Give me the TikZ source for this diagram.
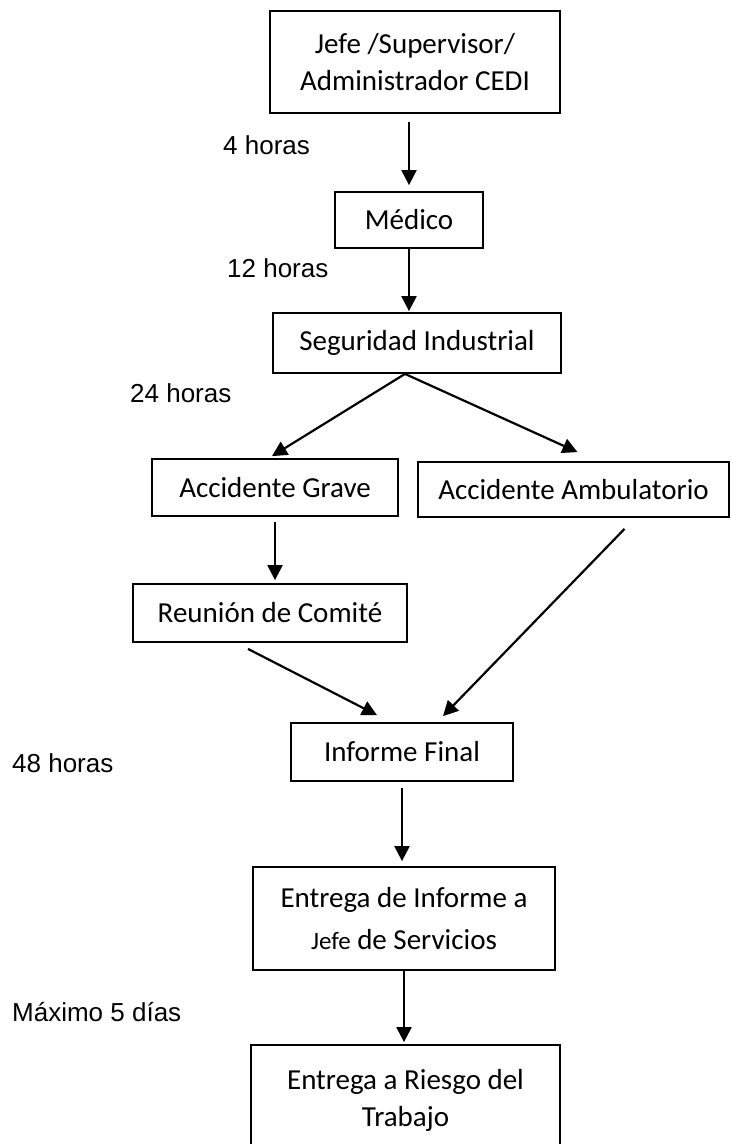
\documentclass[tikz,border=0pt]{standalone}
\usepackage{fontspec}
\setmainfont{Carlito}
\newfontfamily\labelfont{Liberation Sans}
\usetikzlibrary{arrows.meta,calc}
\begin{document}
\begin{tikzpicture}[x=1pt,y=-1pt,
  stepbox/.style={draw,line width=1.8pt,rectangle,inner sep=0pt,align=center,
    font=\fontsize{29}{37}\selectfont},
  flow/.style={line width=2.2pt,-{Triangle[length=15pt,width=15pt]}},
  timelabel/.style={anchor=west,inner sep=0pt,font=\labelfont\fontsize{26}{31}\selectfont}]
\clip (0,0) rectangle (731,1144);
\fill[white] (0,0) rectangle (731,1144);

% process steps
\node[stepbox,minimum width=290pt,minimum height=102pt] (jefe) at (415,62)
  {Jefe /Supervisor/\\Administrador CEDI};
\node[stepbox,minimum width=148pt,minimum height=56pt] (med) at (409,220) {Médico};
\node[stepbox,minimum width=288pt,minimum height=60pt] (seg) at (417,343) {Seguridad Industrial};
\node[stepbox,minimum width=246pt,minimum height=57pt] (ag) at (275,487.5) {Accidente Grave};
\node[stepbox,minimum width=311pt,minimum height=55pt] (aa) at (573.5,489.5) {Accidente Ambulatorio};
\node[stepbox,minimum width=274pt,minimum height=58pt] (rc) at (270,613) {Reunión de Comité};
\node[stepbox,minimum width=222pt,minimum height=58pt] (inf) at (402,752) {Informe Final};
\node[stepbox,minimum width=302pt,minimum height=103pt,
  font=\fontsize{29}{42}\selectfont] (ei) at (404,918.5)
  {Entrega de Informe a\\{\fontsize{25}{42}\selectfont Jefe} de Servicios};
\node[stepbox,minimum width=309pt,minimum height=110pt] (fin) at (405.5,1100)
  {Entrega a Riesgo del\\Trabajo};

% time limits
\node[timelabel] (t4) at (223,145) {4 horas};
\node[timelabel] (t12) at (227,268) {12 horas};
\node[timelabel] (t24) at (130,393) {24 horas};
\node[timelabel] (t48) at (12,763) {48 horas};
\node[timelabel] (t5) at (12,1012) {Máximo 5 días};

% connectors
\draw[flow,shorten <=8pt,shorten >=6pt] (jefe.south -| med.north) -- (med.north);
\draw[flow,shorten >=1pt] (med.south) -- (med.south |- seg.north);
\coordinate (split) at ($(seg.south)+(-12,0)$);
\draw[flow] (split) -- ($(ag.north)+(-3,-2)$);
\draw[flow] (split) -- ($(aa.north)+(4,-9)$);
\draw[flow,shorten <=5pt,shorten >=3pt] (ag.south) -- (ag.south |- rc.north);
\draw[flow] ($(rc.south)+(-22,6)$) -- ($(inf.north)+(-25,-7)$);
\draw[flow] ($(aa.south)+(51,11)$) -- ($(inf.north)+(41,-6)$);
\draw[flow,shorten <=6pt,shorten >=5pt] (inf.south) -- (inf.south |- ei.north);
\draw[flow,shorten >=2pt] (ei.south) -- (ei.south |- fin.north);
\end{tikzpicture}
\end{document}
